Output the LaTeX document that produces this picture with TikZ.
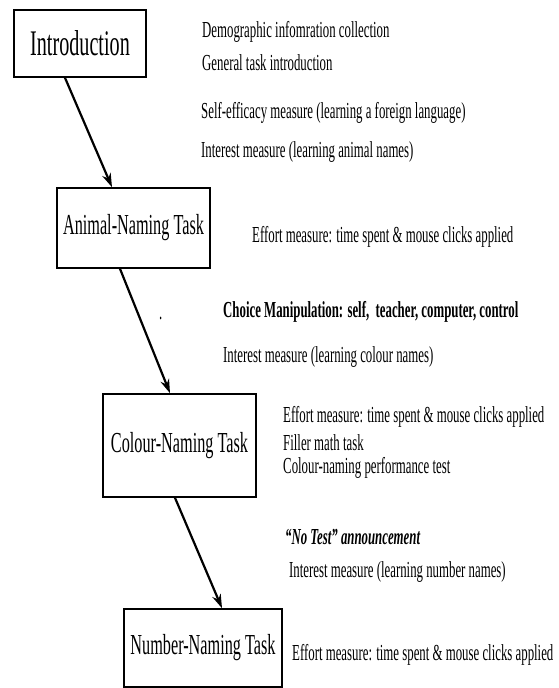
\documentclass[tikz,border=0pt]{standalone}
\usepackage{fontspec}
\setmainfont{Liberation Serif}[FakeStretch=0.56]
\usetikzlibrary{arrows.meta}

\begin{document}
\begin{tikzpicture}[x=1pt, y=-1pt,
  taskbox/.style={draw=black, line width=1.6pt, inner sep=0pt,
              font=\fontsize{29}{32}\selectfont, align=center},
  note/.style={anchor=west, inner sep=0pt, font=\fontsize{22.9}{26}\selectfont},
  flow/.style={-{Stealth[length=14pt, width=9pt]}, line width=2.2pt}]

  \useasboundingbox (0,0) rectangle (558,688);

  \node[taskbox, minimum width=132pt, minimum height=67pt,
        font=\fontsize{36}{38}\selectfont] (intro) at (80,43.5) {Introduction};
  \node[taskbox, minimum width=153pt, minimum height=80pt] (animal) at (133.5,228) {Animal-Naming Task};
  \node[taskbox, minimum width=153pt, minimum height=103pt] (colour) at (179.5,445.5) {Colour-Naming Task};
  \node[taskbox, minimum width=158pt, minimum height=78pt] (number) at (203,648) {Number-Naming Task};

  \draw[flow] ([xshift=-15pt]intro.south) -- ([xshift=-21.5pt]animal.north);
  \draw[flow] ([xshift=-13.5pt]animal.south) -- ([xshift=-9.5pt]colour.north);
  \draw[flow] ([xshift=-4.5pt]colour.south) -- ([xshift=19pt]number.north);

  \node[note] (demo)  at (202,32)  {Demographic infomration collection};
  \node[note] (gen)   at (202,63)  {General task introduction};
  \node[note] (self)  at (201,113) {Self-efficacy measure (learning a foreign language)};
  \node[note] (intA)  at (201,152) {Interest measure (learning animal names)};
  \node[note] (effA)  at (252,237) {Effort measure: time spent \& mouse clicks applied};

  \node[note, font=\fontsize{22.9}{26}\selectfont\bfseries] (choice) at (223,312)
    {Choice Manipulation: self,\ \ teacher, computer, control};
  \node[note] (dot)   at (159,318) {.};
  \node[note] (intC)  at (223,357) {Interest measure (learning colour names)};

  \node[note] (effC)  at (283,417) {Effort measure: time spent \& mouse clicks applied};
  \node[note] (fill)  at (283,443) {Filler math task};
  \node[note] (perfC) at (283,468) {Colour-naming performance test};

  \node[note, font=\fontsize{22.9}{26}\selectfont\bfseries\itshape] (notest) at (285,537)
    {``No Test'' announcement};
  \node[note] (intN)  at (289,572) {Interest measure (learning number names)};
  \node[note] (effN)  at (292,655) {Effort measure: time spent \& mouse clicks applied};
\end{tikzpicture}
\end{document}
